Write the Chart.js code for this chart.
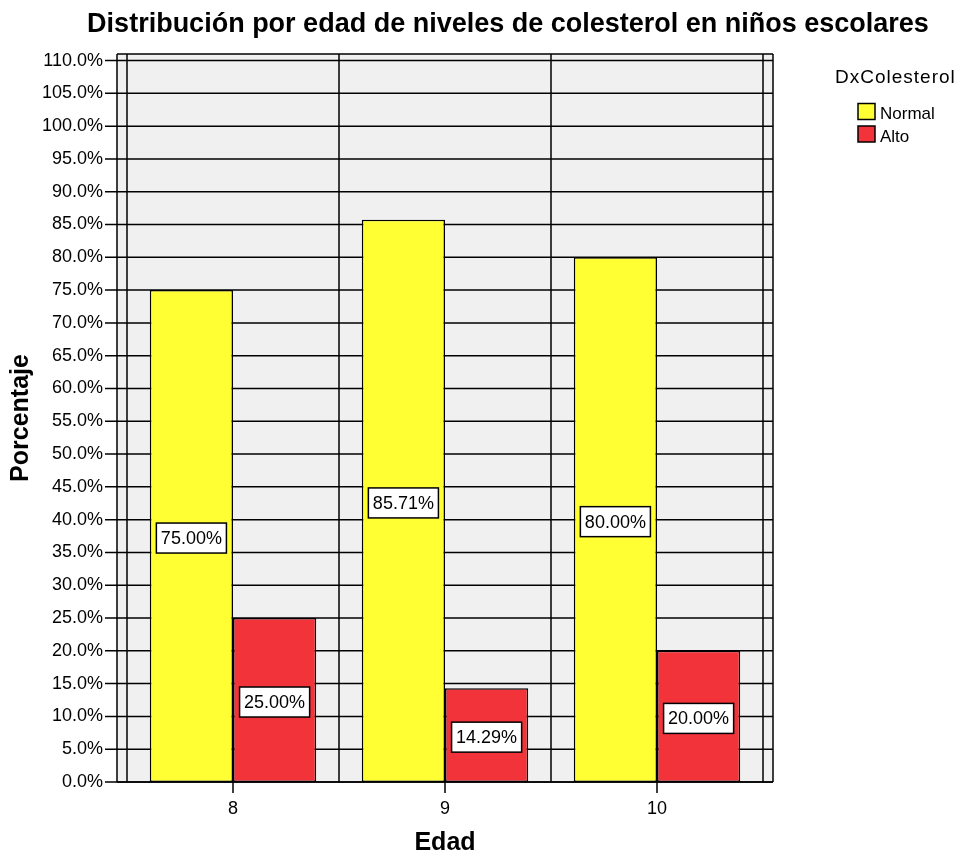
<!DOCTYPE html>
<html>
<head>
<meta charset="utf-8">
<script src="https://cdn.jsdelivr.net/npm/chart.js@4.4.1/dist/chart.umd.min.js"></script>
<style>
  html, body { margin: 0; padding: 0; background: #fff; }
  #wrap { width: 963px; height: 856px; }
</style>
</head>
<body>
<div id="wrap"><canvas id="myChart" width="963" height="856"></canvas></div>
<script>
var edades = ['8', '9', '10'];
var normal = [75.00, 85.71, 80.00];
var alto = [25.00, 14.29, 20.00];
var serieNombres = ['Normal', 'Alto'];
var tituloLeyenda = 'DxColesterol';
var titulo = 'Distribución por edad de niveles de colesterol en niños escolares';

var FONT = '"Liberation Sans", Arial, sans-serif';
var LINE = '#000';
var LW = 1.5;

// fondo gris, rejilla y marco al estilo SPSS
var marcoPlugin = {
    id: 'marco',
    beforeDatasetsDraw: function(chart) {
        var ctx = chart.ctx, ca = chart.chartArea;
        var xs = chart.scales.x, ys = chart.scales.y;
        var L = ca.left - 10, R = ca.right + 10, T = ca.top, B = ca.bottom;
        ctx.save();
        ctx.fillStyle = '#f0f0f0';
        ctx.fillRect(L, T, R - L, B - T);
        ctx.strokeStyle = LINE;
        ctx.lineWidth = LW;
        ctx.beginPath();
        ys.ticks.forEach(function(t) {
            var y = ys.getPixelForValue(t.value);
            ctx.moveTo(L - 12, y);
            ctx.lineTo(R, y);
        });
        ctx.moveTo(L, T); ctx.lineTo(R, T);
        var step = xs.getPixelForValue(1) - xs.getPixelForValue(0);
        var v = [L, R];
        for (var i = 0; i <= edades.length; i++) {
            v.push(xs.getPixelForValue(0) - step / 2 + i * step);
        }
        v.forEach(function(x) {
            ctx.moveTo(x, T); ctx.lineTo(x, B);
        });
        ctx.stroke();
        ctx.restore();
    },
    afterDatasetsDraw: function(chart) {
        var ctx = chart.ctx, ca = chart.chartArea;
        var xs = chart.scales.x;
        ctx.save();
        ctx.strokeStyle = LINE;
        ctx.lineWidth = LW;
        ctx.beginPath();
        ctx.moveTo(ca.left - 10, ca.bottom); ctx.lineTo(ca.right + 10, ca.bottom);
        edades.forEach(function(e, i) {
            var x = xs.getPixelForValue(i);
            ctx.moveTo(x, ca.bottom); ctx.lineTo(x, ca.bottom + 11);
        });
        ctx.stroke();

        // etiquetas de valor
        ctx.font = '18px ' + FONT;
        ctx.textAlign = 'center';
        ctx.textBaseline = 'middle';
        chart.data.datasets.forEach(function(ds, di) {
            chart.getDatasetMeta(di).data.forEach(function(bar, i) {
                var txt = ds.data[i].toFixed(2) + '%';
                var w = ctx.measureText(txt).width + 9;
                var h = 30;
                var cx = bar.x, cy = (bar.y + bar.base) / 2 + 2;
                ctx.fillStyle = '#fff';
                ctx.fillRect(cx - w / 2, cy - h / 2, w, h);
                ctx.lineWidth = LW;
                ctx.strokeRect(cx - w / 2, cy - h / 2, w, h);
                ctx.fillStyle = '#000';
                ctx.fillText(txt, cx, cy + 1);
            });
        });
        ctx.restore();
    },
    afterDraw: function(chart) {
        var ctx = chart.ctx;
        ctx.save();
        ctx.fillStyle = '#000';
        ctx.textBaseline = 'alphabetic';
        ctx.font = 'bold 27px ' + FONT;
        ctx.textAlign = 'center';
        ctx.fillText(titulo, 508, 32);

        // leyenda
        ctx.textAlign = 'left';
        ctx.font = '19px ' + FONT;
        ctx.letterSpacing = '1px';
        ctx.fillText(tituloLeyenda, 835, 83);
        ctx.letterSpacing = '0px';
        ctx.font = '17px ' + FONT;
        chart.data.datasets.forEach(function(ds, i) {
            var y = 103.5 + i * 22.5;
            ctx.fillStyle = ds.backgroundColor;
            ctx.fillRect(858, y, 17, 16);
            ctx.strokeStyle = LINE;
            ctx.lineWidth = LW;
            ctx.strokeRect(858, y, 17, 16);
            ctx.fillStyle = '#000';
            ctx.fillText(ds.label, 880, y + 15.5);
        });
        ctx.restore();
    }
};

function intializeChart() {
    var ctx = document.getElementById('myChart');
    var chart = new Chart(ctx, {
        type: 'bar',
        data: {
            labels: edades,
            datasets: [{
                label: serieNombres[0],
                data: normal,
                backgroundColor: '#ffff33',
                borderColor: LINE,
                borderWidth: LW,
                borderSkipped: false
            }, {
                label: serieNombres[1],
                data: alto,
                backgroundColor: '#f3333a',
                borderColor: LINE,
                borderWidth: LW,
                borderSkipped: false
            }]
        },
        options: {
            responsive: false,
            animation: false,
            events: [],
            layout: { padding: { left: 0, right: 200, top: 54, bottom: 0 } },
            categoryPercentage: 0.785,
            barPercentage: 1,
            plugins: {
                legend: { display: false },
                title: { display: false },
                tooltip: { enabled: false }
            },
            scales: {
                x: {
                    grid: { display: false, drawTicks: false, tickLength: 0 },
                    border: { display: false },
                    ticks: { color: '#000', font: { family: FONT, size: 18 }, padding: 16 },
                    title: {
                        display: true, text: 'Edad', color: '#000',
                        font: { family: FONT, size: 25, weight: 'bold', lineHeight: 1 },
                        padding: 0
                    },
                    afterFit: function(s) { s.height = 74; }
                },
                y: {
                    min: 0,
                    max: 111,
                    grid: { display: false, drawTicks: false, tickLength: 0 },
                    border: { display: false },
                    ticks: {
                        stepSize: 5,
                        includeBounds: false,
                        color: '#000',
                        font: { family: FONT, size: 18 },
                        padding: 24,
                        callback: function(v) { return v.toFixed(1) + '%'; }
                    },
                    afterBuildTicks: function(s) {
                        s.ticks = s.ticks.filter(function(t) { return t.value <= 110.5; });
                    },
                    title: {
                        display: true, text: 'Porcentaje', color: '#000',
                        font: { family: FONT, size: 25, weight: 'bold', lineHeight: 1 },
                        padding: 9
                    },
                    afterFit: function(s) { s.width = 127; }
                }
            }
        },
        plugins: [marcoPlugin]
    });
}

intializeChart();
</script>
</body>
</html>
